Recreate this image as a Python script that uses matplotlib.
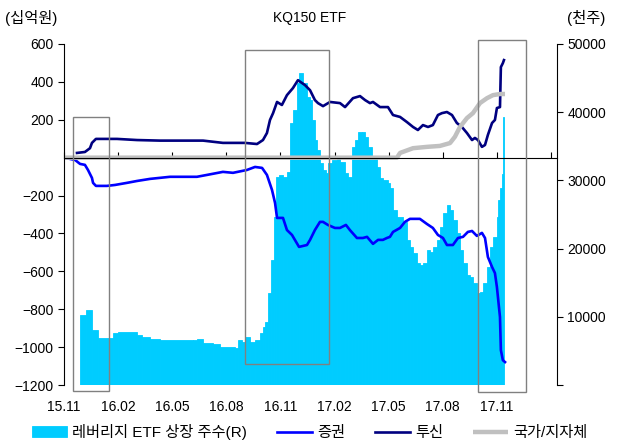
import numpy as np
import matplotlib
matplotlib.use("Agg")
import matplotlib.pyplot as plt
from matplotlib.patches import Rectangle
from matplotlib.transforms import blended_transform_factory

plt.rcParams['font.family'] = ['Liberation Sans', 'Noto Sans CJK KR']
plt.rcParams['axes.unicode_minus'] = True

# x = months since 2015.11
tick_labels = ['15.11', '16.02', '16.05', '16.08', '16.11', '17.02', '17.05', '17.08', '17.11']

# 레버리지 ETF 상장 주수 (천주, right axis)
shares_x = [0.89, 1.22, 1.55, 1.88, 2.72, 2.99, 4.05, 4.32, 4.77, 5.32, 7.15, 7.37, 7.71, 8.26,
            8.65, 9.48, 9.65, 9.87, 10.03, 10.31, 10.59, 10.86, 11.03, 11.14, 11.31, 11.47,
            11.64, 11.75, 11.92, 12.14, 12.36, 12.53, 12.69, 12.92, 13.03, 13.25, 13.47, 13.64,
            13.75, 13.91, 14.02, 14.19, 14.36, 14.52, 14.63, 14.86, 15.13, 15.30, 15.58, 15.74,
            15.96, 16.13, 16.30, 16.52, 16.69, 16.85, 17.07, 17.35, 17.52, 17.68, 17.96, 18.07,
            18.24, 18.46, 18.79, 19.01, 19.18, 19.35, 19.57, 19.73, 19.90, 20.12, 20.29, 20.45,
            20.68, 20.84, 21.01, 21.23, 21.40, 21.56, 21.78, 21.95, 22.12, 22.34, 22.51, 22.67,
            22.89, 23.06, 23.23, 23.45, 23.61, 23.78, 24.00, 24.06, 24.17, 24.28, 24.33]
shares_end = 24.39
shares = [10260, 11000, 8060, 6900, 7600, 7770, 7400, 7040, 6800, 6600, 6600, 6700, 6160, 6000,
          5570, 5420, 6600, 6300, 7040, 6300, 6600, 7600, 8500, 9240, 13500, 18300,
          24600, 30500, 30800, 30500, 31200, 38400, 40300, 44300, 45700, 44300, 42200, 41800,
          38800, 35900, 34400, 32500, 31500, 31100, 32500, 33000, 33300, 32700, 31100, 30500,
          34900, 35900, 37100, 37100, 36400, 34900, 33400, 32000, 30300, 30000, 29600, 28900,
          25700, 24600, 23900, 21300, 20200, 19300, 17900, 17600, 17900, 19800, 19500, 20200,
          21300, 23200, 25200, 26400, 25700, 24200, 22300, 19800, 17900, 16100, 15800, 14900,
          13500, 13600, 14900, 17300, 20200, 21700, 24600, 27100, 28900, 31000, 39300]

# 증권 (십억원)
sec_x = [0.0, 0.61, 0.89, 1.16, 1.33, 1.55, 1.61, 1.77, 2.38, 2.83, 3.49, 4.05, 4.77, 5.88, 7.37,
         7.93, 8.81, 9.37, 10.14, 10.59, 10.98, 11.25, 11.53, 11.70, 11.81, 12.14, 12.36, 12.64,
         12.80, 13.03, 13.47, 13.64, 13.91, 14.19, 14.36, 14.63, 15.02, 15.30, 15.63, 15.85,
         16.24, 16.57, 16.80, 17.13, 17.41, 17.68, 17.90, 18.07, 18.24, 18.63, 18.90, 19.18,
         19.73, 20.12, 20.45, 20.73, 21.01, 21.23, 21.56, 21.84, 22.12, 22.39, 22.62, 22.89,
         23.17, 23.34, 23.50, 23.73, 23.89, 24.00, 24.17, 24.22, 24.33, 24.45]
sec = [0, -12, -33, -38, -65, -107, -133, -149, -149, -144, -133, -123, -112, -101, -101,
       -91, -75, -80, -65, -49, -54, -91, -170, -239, -318, -318, -382, -408,
       -434, -471, -461, -434, -382, -339, -339, -355, -371, -371, -355, -382,
       -424, -424, -418, -455, -434, -434, -424, -418, -392, -371, -339, -323,
       -323, -350, -371, -408, -424, -461, -461, -424, -418, -392, -387, -413,
       -397, -424, -524, -577, -609, -683, -841, -1016, -1069, -1079]

# 투신 (십억원)
inv_x = [0.72, 1.16, 1.44, 1.55, 1.77, 2.94, 4.05, 5.32, 7.71, 8.81, 10.03, 10.70, 11.03, 11.25,
         11.42, 11.59, 11.81, 12.08, 12.36, 12.69, 12.97, 13.36, 13.64, 13.91, 14.08, 14.36,
         14.75, 15.30, 15.58, 16.02, 16.41, 16.69, 16.96, 17.13, 17.52, 17.96, 18.24, 18.63,
         19.01, 19.35, 19.62, 19.90, 20.18, 20.45, 20.73, 20.95, 21.23, 21.51, 21.78, 22.06,
         22.34, 22.62, 22.78, 22.95, 23.17, 23.34, 23.50, 23.73, 23.89, 24.00, 24.17, 24.22,
         24.33, 24.39]
inv = [25, 30, 50, 78, 99, 99, 93, 90, 90, 78, 78, 72, 93, 130,
       199, 235, 294, 278, 330, 367, 409, 383, 356, 304, 288, 272,
       294, 288, 267, 314, 325, 304, 288, 294, 267, 267, 225, 215,
       188, 162, 146, 172, 162, 172, 225, 235, 241, 225, 183, 162,
       130, 93, 104, 93, 57, 67, 120, 183, 199, 262, 267, 478,
       499, 515]

# 국가/지자체 (십억원)
gov_x = [0.0, 18.46, 18.63, 19.35, 20.12, 20.84, 21.40, 21.67, 21.95, 22.34, 22.67, 23.06,
         23.45, 23.78, 24.17, 24.45]
gov = [0, 0, 25, 50, 57, 62, 77, 110, 162, 209, 235, 288, 314, 330, 336, 336]

# highlighted periods: (x0, x1, y0, y1)
boxes = [(0.50, 2.49, -1232, 215), (10.03, 14.69, -1089, 568), (22.95, 25.61, -1237, 621)]

fig = plt.figure(figsize=(6.19, 4.43), dpi=100)
ax = fig.add_axes([0.1034, 0.1309, 0.7964, 0.7698])
ax2 = ax.twinx()

sx = np.array(shares_x)
widths = np.diff(np.append(sx, shares_end))
bars = ax2.bar(sx, shares, width=widths, align='edge', color='#00CCFF', edgecolor='#00CCFF',
               linewidth=0.6, label='레버리지 ETF 상장 주수(R)')
ax2.set_ylim(0, 50000)
ax2.set_yticks([0, 10000, 20000, 30000, 40000, 50000])
ax2.set_yticklabels(['', '10000', '20000', '30000', '40000', '50000'])

ax.set_zorder(ax2.get_zorder() + 1)
ax.patch.set_visible(False)

l1, = ax.plot(sec_x, sec, color='#0000FF', lw=1.9, label='증권')
l2, = ax.plot(inv_x, inv, color='#000080', lw=1.9, label='투신')
l3, = ax.plot(gov_x, gov, color='#C0C0C0', lw=3.2, label='국가/지자체', solid_capstyle='butt')

for x0, x1, y0, y1 in boxes:
    ax.add_patch(Rectangle((x0, y0), x1 - x0, y1 - y0, fill=False, edgecolor='#808080',
                           lw=1.0, clip_on=False, zorder=5))

ax.set_xlim(0, 27.33)
ax.set_ylim(-1200, 600)
ax.set_yticks([600, 400, 200, -200, -400, -600, -800, -1000, -1200])
ax.spines['bottom'].set_position(('data', 0))
ax.spines['top'].set_visible(False)
ax.spines['right'].set_visible(False)
ax2.spines['top'].set_visible(False)
ax2.spines['bottom'].set_visible(False)
ax2.spines['left'].set_visible(False)
ax.set_xticks(np.arange(0, 28, 3))
ax.tick_params(axis='x', direction='in', length=4, labelbottom=False)
ax.tick_params(axis='y', direction='out', length=4, labelsize=10)
ax2.tick_params(axis='y', direction='out', length=4, labelsize=10)

trans = blended_transform_factory(ax.transData, ax.transAxes)
for i, lab in enumerate(tick_labels):
    ax.text(i * 3, -0.065, lab, transform=trans, ha='center', va='center', fontsize=10)

fig.text(0.5, 0.96, 'KQ150 ETF', ha='center', va='center', fontsize=10)
fig.text(0.008, 0.96, '(십억원)', ha='left', va='center', fontsize=11)
fig.text(0.978, 0.96, '(천주)', ha='right', va='center', fontsize=11)

handles = [bars, l1, l2, l3]
labels = ['레버리지 ETF 상장 주수(R)', '증권', '투신', '국가/지자체']
fig.legend(handles, labels, loc='center', bbox_to_anchor=(0.5, 0.025), ncol=4, frameon=False,
           fontsize=11, handlelength=2.3, handletextpad=0.33, columnspacing=1.95,
           borderaxespad=0)

fig.savefig('out.png', dpi=100)
